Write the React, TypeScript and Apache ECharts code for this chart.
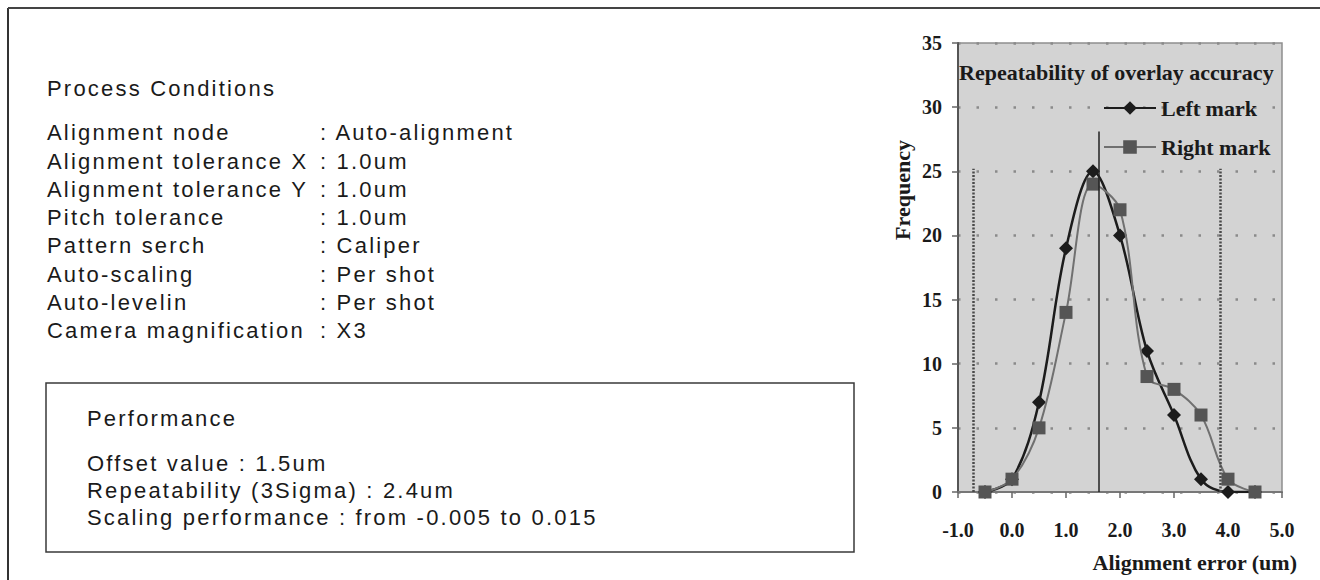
import React, { useEffect, useRef } from "react";
import * as echarts from "echarts";

// ---- chart data ----
const xValues = [-0.5, 0, 0.5, 1, 1.5, 2, 2.5, 3, 3.5, 4, 4.5];
const leftMark = [0, 1, 7, 19, 25, 20, 11, 6, 1, 0, 0];
const rightMark = [0, 1, 5, 14, 24, 22, 9, 8, 6, 1, 0];
const seriesNames = ["Left mark", "Right mark"];
const centerLineX = 1.6;
const centerLineTop = 28.1;
const limitLinesX = [-0.72, 3.86];
const limitLinesTop = 25.2;
const xMin = -1;
const xMax = 5;
const xStep = 1;
const yMin = 0;
const yMax = 35;
const yStep = 5;
const chartTitle = "Repeatability of overlay accuracy";
const yAxisTitle = "Frequency";
const xAxisTitle = "Alignment error (um)";

// ---- side panel texts ----
const conditionsTitle = "Process Conditions";
const conditionLabels = [
  "Alignment node",
  "Alignment tolerance X",
  "Alignment tolerance Y",
  "Pitch tolerance",
  "Pattern serch",
  "Auto-scaling",
  "Auto-levelin",
  "Camera magnification",
];
const conditionValues = [
  "Auto-alignment",
  "1.0um",
  "1.0um",
  "1.0um",
  "Caliper",
  "Per shot",
  "Per shot",
  "X3",
];
const performanceTitle = "Performance";
const performanceLines = [
  "Offset value : 1.5um",
  "Repeatability (3Sigma) : 2.4um",
  "Scaling performance : from -0.005 to 0.015",
];

const SERIF = "Liberation Serif";
const SANS = "Liberation Sans";
const INK = "#1a1a1a";

export default function App() {
  const ref = useRef<HTMLDivElement>(null);

  useEffect(() => {
    if (!ref.current) return;
    const chart = echarts.init(ref.current, undefined, { renderer: "svg" });

    const panelText = (text: string, x: number, y: number) => ({
      type: "text",
      x,
      y,
      silent: true,
      style: {
        text,
        fontFamily: SANS,
        fontSize: 22,
        fill: INK,
        align: "left",
        verticalAlign: "middle",
      },
    });

    const graphics: any[] = [
      // page frame
      { type: "line", shape: { x1: 8, y1: 8, x2: 8, y2: 580 }, style: { stroke: "#333", lineWidth: 2 }, silent: true },
      { type: "line", shape: { x1: 8, y1: 8, x2: 1320, y2: 8 }, style: { stroke: "#444", lineWidth: 2 }, silent: true },
      // performance box
      {
        type: "rect",
        shape: { x: 46, y: 383, width: 808, height: 169 },
        style: { fill: "none", stroke: "#3a3a3a", lineWidth: 1.5 },
        silent: true,
      },
      panelText(conditionsTitle, 47, 88),
    ];
    conditionLabels.forEach((lab, i) => {
      const y = 132.7 + i * 28.3;
      graphics.push(panelText(lab, 47, y));
      graphics.push(panelText(": " + conditionValues[i], 320, y));
    });
    graphics.push(panelText(performanceTitle, 87, 418));
    performanceLines.forEach((t, i) => {
      graphics.push(panelText(t, 87, 463 + i * 27));
    });
    // axis titles
    graphics.push({
      type: "text",
      x: 902,
      y: 190,
      rotation: Math.PI / 2,
      silent: true,
      style: {
        text: yAxisTitle,
        fontFamily: SERIF,
        fontWeight: "bold",
        fontSize: 22,
        fill: INK,
        align: "center",
        verticalAlign: "middle",
      },
    });
    graphics.push({
      type: "text",
      x: 1297,
      y: 562,
      silent: true,
      style: {
        text: xAxisTitle,
        fontFamily: SERIF,
        fontWeight: "bold",
        fontSize: 22,
        fill: INK,
        align: "right",
        verticalAlign: "middle",
      },
    });

    const tickFont = {
      fontFamily: SERIF,
      fontWeight: "bold" as const,
      fontSize: 20,
      color: INK,
    };

    chart.setOption({
      animation: false,
      backgroundColor: "#ffffff",
      title: {
        text: chartTitle,
        left: 959,
        top: 61,
        padding: 0,
        textStyle: { fontFamily: SERIF, fontWeight: "bold", fontSize: 22, color: INK },
      },
      legend: {
        data: seriesNames,
        orient: "vertical",
        left: 1103,
        top: 97,
        itemWidth: 52,
        itemHeight: 17,
        itemGap: 17,
        padding: 0,
        textStyle: {
          fontFamily: SERIF,
          fontWeight: "bold",
          fontSize: 22,
          color: INK,
          padding: [12, 0, 0, 0],
        },
      },
      grid: {
        left: 958,
        top: 43,
        right: 38,
        bottom: 88,
        show: true,
        backgroundColor: "#d3d3d3",
        borderColor: "#8f8f8f",
        borderWidth: 1.5,
      },
      xAxis: {
        type: "value",
        min: xMin,
        max: xMax,
        interval: xStep,
        axisLine: { show: true, onZero: false, lineStyle: { color: "#777", width: 2 } },
        axisTick: { show: true, length: 6, lineStyle: { color: "#666", width: 1.5 } },
        axisLabel: { ...tickFont, margin: 28, formatter: (v: number) => v.toFixed(1) },
        splitLine: { show: false },
      },
      yAxis: {
        type: "value",
        min: yMin,
        max: yMax,
        interval: yStep,
        axisLine: { show: true, onZero: false, lineStyle: { color: "#555", width: 2 } },
        axisTick: { show: true, length: 6, lineStyle: { color: "#666", width: 1.5 } },
        axisLabel: { ...tickFont, margin: 16 },
        splitLine: { show: true, lineStyle: { type: [2.5, 16], width: 2.5, color: "#8a8a8a" } },
      },
      series: [
        {
          name: seriesNames[0],
          type: "line",
          data: xValues.map((x, i) => [x, leftMark[i]]),
          smooth: 0.35,
          symbol: "diamond",
          symbolSize: 14,
          lineStyle: { color: "#1c1c1c", width: 2.5 },
          itemStyle: { color: "#1c1c1c" },
          z: 3,
          markLine: {
            silent: true,
            symbol: "none",
            label: { show: false },
            lineStyle: { color: "#222", width: 1.5, type: "solid" },
            data: [[{ coord: [centerLineX, 0] }, { coord: [centerLineX, centerLineTop] }]],
          },
        },
        {
          name: seriesNames[1],
          type: "line",
          data: xValues.map((x, i) => [x, rightMark[i]]),
          smooth: 0.35,
          symbol: "rect",
          symbolSize: 13,
          lineStyle: { color: "#707070", width: 2 },
          itemStyle: { color: "#555555" },
          z: 4,
          markLine: {
            silent: true,
            symbol: "none",
            label: { show: false },
            lineStyle: { color: "#4a4a4a", width: 2.5, type: [2, 1.5] },
            data: limitLinesX.map((x) => [{ coord: [x, 0] }, { coord: [x, limitLinesTop] }]),
          },
        },
      ],
      graphic: graphics,
    });

    return () => chart.dispose();
  }, []);

  return (
    <>
      <style>{'svg text[style*="Liberation Sans"]{letter-spacing:2.2px}'}</style>
      <div
        ref={ref}
        style={{ position: "absolute", left: 0, top: 0, width: 1320, height: 580 }}
      />
    </>
  );
}
